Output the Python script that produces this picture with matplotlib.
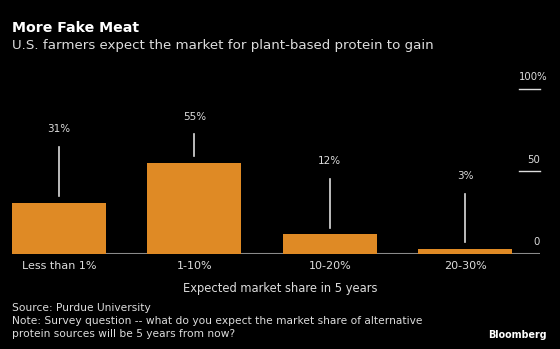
import matplotlib.pyplot as plt

categories = ['Less than 1%', '1-10%', '10-20%', '20-30%']
shares = [31, 55, 12, 3]
label_heights = [72.5, 80, 53, 44]   # where the value labels sit above the bars

bg = 'black'
bar_color = '#DF8A25'
fg = '#DDDDDD'

plt.rcParams['font.family'] = ['DejaVu Sans']

fig = plt.figure(figsize=(5.6, 3.49), dpi=100, facecolor=bg)
ax = fig.add_axes([12 / 560, 1 - 254 / 349, 528 / 560, 172 / 349], facecolor=bg)

x = list(range(len(categories)))
ax.bar(x, shares, width=0.694, color=bar_color, zorder=2)

# value labels with leader lines
for xi, v, h in zip(x, shares, label_heights):
    ax.text(xi, h, f'{v}%', ha='center', va='bottom', color=fg, fontsize=7.5)
    ax.plot([xi, xi], [v + 4, h - 7.5], color=fg, lw=1.2, zorder=3)

ax.set_xlim(-0.347, 3.553)
ax.set_ylim(0, 104)
ax.axhline(0, color='#8A8A8A', lw=1.5, zorder=1)

# right-hand scale: short rules with labels sitting on top
for val, lab in [(0, '0'), (50, '50'), (100, '100%')]:
    if val > 0:
        ax.plot([3.398, 3.553], [val, val], color=fg, lw=1, clip_on=False)
    xr = 3.605 if lab.endswith('%') else 3.553
    ax.text(xr, val + 4, lab, ha='right', va='bottom', color=fg, fontsize=7.3)

ax.set_xticks(x)
ax.set_xticklabels(categories, color=fg, fontsize=8)
ax.tick_params(axis='x', length=0, pad=5)
ax.set_yticks([])
for s in ax.spines.values():
    s.set_visible(False)

def ftext(px, py, s, **kw):
    # place text by pixel position, y measured from the top edge
    fig.text(px / 560, 1 - py / 349, s, va='baseline', **kw)

ftext(12, 31.5, 'More Fake Meat', color='white', fontsize=10.2, fontweight='bold')
ftext(12, 49, 'U.S. farmers expect the market for plant-based protein to gain',
      color=fg, fontsize=9.6)
ftext(280, 292, 'Expected market share in 5 years', color=fg, fontsize=8.3,
      ha='center')
ftext(12, 311, 'Source: Purdue University', color=fg, fontsize=7.7)
ftext(12, 324, 'Note: Survey question -- what do you expect the market share of alternative',
      color=fg, fontsize=7.7)
ftext(12, 337, 'protein sources will be 5 years from now?', color=fg, fontsize=7.7)
ftext(547, 338, 'Bloomberg', color='white', fontsize=6.9, fontweight='bold',
      ha='right')

fig.savefig('out.png', dpi=100, facecolor=bg)
